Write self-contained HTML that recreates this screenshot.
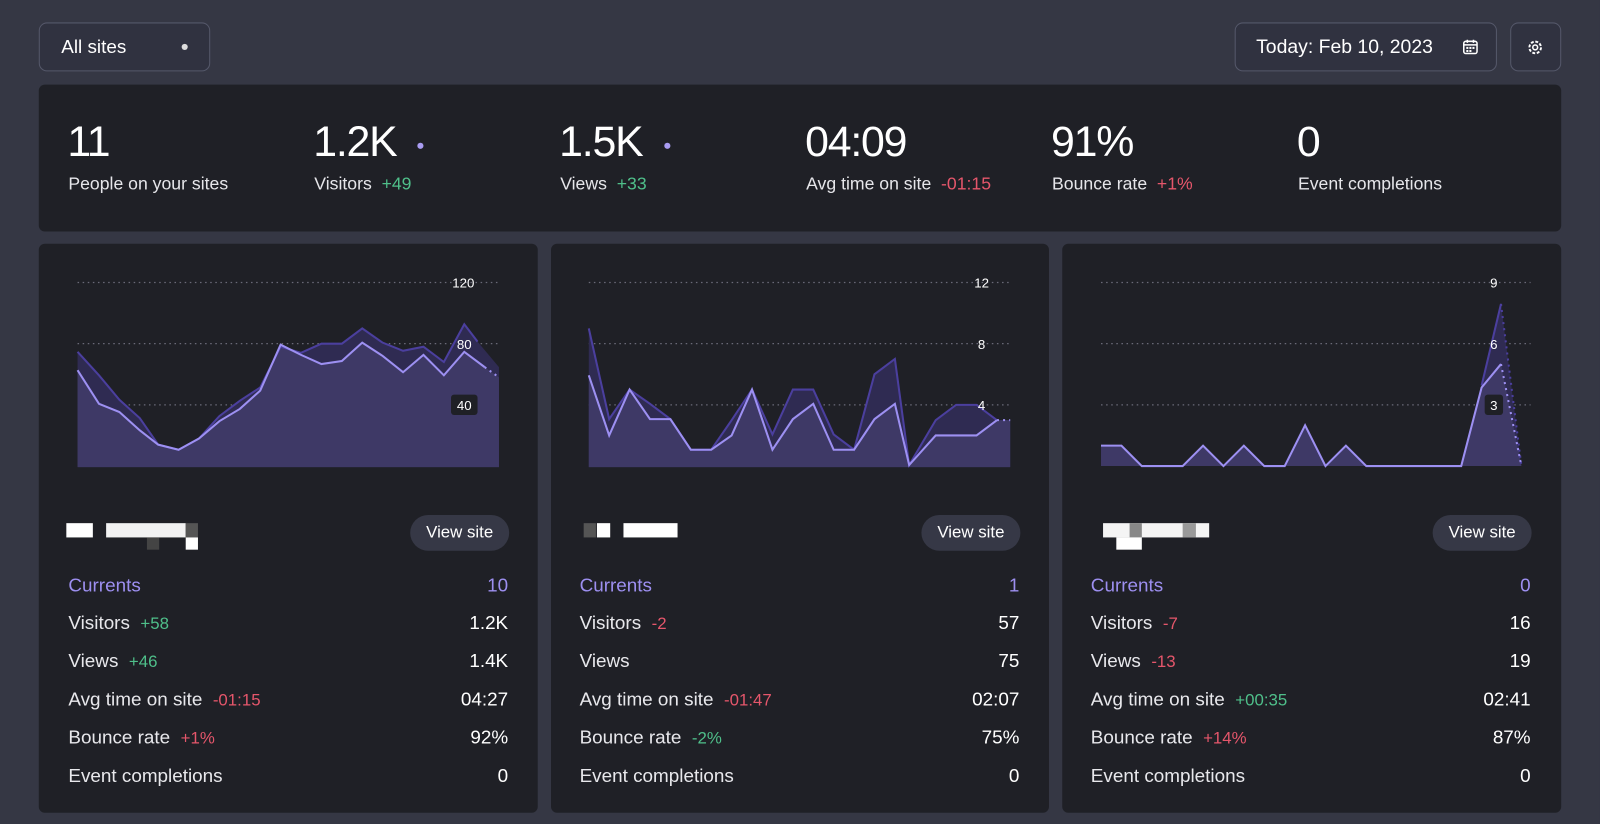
<!DOCTYPE html>
<html><head><meta charset="utf-8"><style>
*{margin:0;padding:0;box-sizing:border-box}
html,body{width:1600px;height:824px;overflow:hidden;background:#353744}
body{font-family:"Liberation Sans",sans-serif;color:#fff}
#w{position:absolute;left:0;top:0;width:1568px;height:808px;transform:scale(1.0204,1.0198);transform-origin:0 0;background:#353744}
.a{position:absolute}
.btn{position:absolute;border:1.5px solid #55586a;border-radius:8px;background:#303240}
.card{position:absolute;background:#1f2026;border-radius:6px}
.big{position:absolute;font-size:42px;letter-spacing:-1.2px;top:115px}
.lab{position:absolute;font-size:17.3px;top:170px;color:#e6e6ea}
.g{color:#4fbf8a}.r{color:#e5566b}
.row{position:absolute;font-size:18.5px;color:#e8e8ec}
.row span{font-size:16.5px}
.v{position:absolute;font-size:18.5px;text-align:right;width:100px}
.vs{position:absolute;width:97px;height:35px;border-radius:18px;background:#363846;font-size:16.5px;text-align:center;line-height:35px;top:505px}
.dot{position:absolute;width:6px;height:6px;border-radius:3px}
</style></head><body><div id="w">
<div class="btn" style="left:38px;top:22px;width:168px;height:48px"></div>
<div class="a" style="left:60px;top:35px;font-size:18.5px">All sites</div>
<div class="dot" style="left:178px;top:43px;background:#ddd"></div>
<div class="btn" style="left:1210px;top:22px;width:257px;height:48px"></div>
<div class="a" style="left:1231px;top:36px;font-size:19px">Today: Feb 10, 2023</div>
<svg class="a" style="left:1433px;top:38px" width="16" height="16" viewBox="0 0 16 16"><rect x="1.5" y="2.5" width="13" height="12" rx="2" fill="none" stroke="#fff" stroke-width="1.5"/><line x1="1.5" y1="6" x2="14.5" y2="6" stroke="#fff" stroke-width="1.5"/><line x1="5" y1="1" x2="5" y2="4" stroke="#fff" stroke-width="1.5"/><line x1="11" y1="1" x2="11" y2="4" stroke="#fff" stroke-width="1.5"/><rect x="4" y="8" width="2" height="2" fill="#fff"/><rect x="7" y="8" width="2" height="2" fill="#fff"/><rect x="10" y="8" width="2" height="2" fill="#fff"/><rect x="4" y="11" width="2" height="2" fill="#fff"/><rect x="7" y="11" width="2" height="2" fill="#fff"/></svg>
<div class="btn" style="left:1480px;top:22px;width:50px;height:48px"></div>
<svg class="a" style="left:1495px;top:37px" width="19" height="19" viewBox="0 0 20 20"><circle cx="10" cy="10" r="6" fill="none" stroke="#fff" stroke-width="2" stroke-dasharray="3 1.7"/><circle cx="10" cy="10" r="2.5" fill="none" stroke="#fff" stroke-width="1.6"/></svg>

<div class="card" style="left:38px;top:83px;width:1492px;height:144px"></div>
<div class="big" style="left:66px">11</div><div class="lab" style="left:67px">People on your sites</div>
<div class="big" style="left:307px">1.2K</div><div class="dot" style="left:409px;top:140px;background:#a99cf2"></div><div class="lab" style="left:308px">Visitors&nbsp; <span class="g">+49</span></div>
<div class="big" style="left:548px">1.5K</div><div class="dot" style="left:651px;top:140px;background:#a99cf2"></div><div class="lab" style="left:549px">Views&nbsp; <span class="g">+33</span></div>
<div class="big" style="left:789px">04:09</div><div class="lab" style="left:790px">Avg time on site&nbsp; <span class="r">-01:15</span></div>
<div class="big" style="left:1030px">91%</div><div class="lab" style="left:1031px">Bounce rate&nbsp; <span class="r">+1%</span></div>
<div class="big" style="left:1271px">0</div><div class="lab" style="left:1272px">Event completions</div>

<div class="card" style="left:38px;top:239px;width:489px;height:558px"></div>
<div class="card" style="left:540px;top:239px;width:488px;height:558px"></div>
<div class="card" style="left:1041px;top:239px;width:489px;height:558px"></div>

<svg class="a" style="left:0;top:0" width="1568" height="808">
<g stroke="#6a6a78" stroke-width="1.2" stroke-dasharray="1.5 3.5">
<line x1="76" y1="277" x2="489" y2="277"/><line x1="76" y1="337" x2="489" y2="337"/><line x1="76" y1="397" x2="489" y2="397"/>
<line x1="577" y1="277" x2="990" y2="277"/><line x1="577" y1="337" x2="990" y2="337"/><line x1="577" y1="397" x2="990" y2="397"/>
<line x1="1079" y1="277" x2="1500" y2="277"/><line x1="1079" y1="337" x2="1500" y2="337"/><line x1="1079" y1="397" x2="1500" y2="397"/>
</g>
<polygon fill="#2f2b52" points="76,345 97,368 117,392 137,410 155,436 175,441 195,430 215,408 235,393 255,380 275,340 295,346 315,337 335,337 355,322 375,336 395,344 415,340 435,355 455,318 468,335 489,360 489,458 76,458"/>
<polygon fill="#3e3966" points="76,363 97,396 117,404 137,422 155,436 175,441 195,430 215,413 235,401 255,383 275,338 295,348 315,357 335,354 355,336 375,349 395,365 415,348 435,368 455,345 475,360 489,370 489,458 76,458"/>
<polyline fill="none" stroke="#4b3f9e" stroke-width="2" points="76,345 97,368 117,392 137,410 155,436 175,441 195,430 215,408 235,393 255,380 275,340 295,346 315,337 335,337 355,322 375,336 395,344 415,340 435,355 455,318 468,335"/>
<polyline fill="none" stroke="#9d90f2" stroke-width="2" points="76,363 97,396 117,404 137,422 155,436 175,441 195,430 215,413 235,401 255,383 275,338 295,348 315,357 335,354 355,336 375,349 395,365 415,348 435,368 455,345 475,360"/>
<polyline fill="none" stroke="#9d90f2" stroke-width="2" stroke-dasharray="2 4" points="475,360 489,370"/>
<polygon fill="#2f2b52" points="577,322 597,411 617,382 637,396 657,411 677,441 697,441 717,412 737,382 757,426 777,382 797,382 817,426 837,441 857,367 877,352 891,456 917,412 937,397 957,397 977,412 990,412 990,458 577,458"/>
<polygon fill="#3e3966" points="577,368 597,427 617,382 637,411 657,411 677,441 697,441 717,427 737,382 757,441 777,411 797,396 817,441 837,441 857,411 877,396 891,456 917,427 937,427 957,427 977,412 990,412 990,458 577,458"/>
<polyline fill="none" stroke="#4b3f9e" stroke-width="2" points="577,322 597,411 617,382 637,396 657,411 677,441 697,441 717,412 737,382 757,426 777,382 797,382 817,426 837,441 857,367 877,352 891,456 917,412 937,397 957,397 977,412"/>
<polyline fill="none" stroke="#9d90f2" stroke-width="2" points="577,368 597,427 617,382 637,411 657,411 677,441 697,441 717,427 737,382 757,441 777,411 797,396 817,441 837,441 857,411 877,396 891,456 917,427 937,427 957,427 977,412"/>
<polyline fill="none" stroke="#9d90f2" stroke-width="2" stroke-dasharray="2 4" points="977,412 990,412"/>
<polygon fill="#2f2b52" points="1452,378 1471,298 1491,457"/>
<polygon fill="#3e3966" points="1079,437 1099,437 1119,457 1159,457 1179,437 1199,457 1219,437 1239,457 1259,457 1279,417 1299,457 1319,437 1339,457 1432,457 1452,380 1471,357 1491,457 1079,457"/>
<polyline fill="none" stroke="#4b3f9e" stroke-width="2" points="1452,378 1471,298"/>
<polyline fill="none" stroke="#4b3f9e" stroke-width="2" stroke-dasharray="2 4" points="1471,298 1491,457"/>
<polyline fill="none" stroke="#9d90f2" stroke-width="2" points="1079,437 1099,437 1119,457 1159,457 1179,437 1199,457 1219,437 1239,457 1259,457 1279,417 1299,457 1319,437 1339,457 1432,457 1452,380 1471,357"/>
<polyline fill="none" stroke="#9d90f2" stroke-width="2" stroke-dasharray="2 4" points="1471,357 1491,457"/>
<g font-size="13" fill="#fff" text-anchor="middle" font-family="Liberation Sans,sans-serif">
<rect x="442" y="387" width="26" height="20" rx="3" fill="#1f2026"/>
<text x="454" y="282">120</text><text x="455" y="342">80</text><text x="455" y="402">40</text>
<text x="962" y="282">12</text><text x="962" y="342">8</text><text x="962" y="402">4</text>
<rect x="1455" y="387" width="18" height="20" rx="3" fill="#1f2026"/>
<text x="1464" y="282">9</text><text x="1464" y="342">6</text><text x="1464" y="402">3</text>
</g>
<rect x="65" y="513" width="26" height="14" fill="#fff"/><rect x="104" y="513" width="78" height="14" fill="#f2f2f2"/><rect x="182" y="513" width="12" height="14" fill="#555"/><rect x="144" y="527" width="12" height="12" fill="#444"/><rect x="182" y="527" width="12" height="12" fill="#fff"/>
<rect x="572" y="513" width="12" height="14" fill="#555"/><rect x="585" y="513" width="13" height="14" fill="#fff"/><rect x="611" y="513" width="53" height="14" fill="#fff"/>
<rect x="1081" y="513" width="104" height="14" fill="#f4f4f4"/><rect x="1107" y="513" width="12" height="14" fill="#888"/><rect x="1159" y="513" width="13" height="14" fill="#999"/><rect x="1094" y="527" width="25" height="12" fill="#fff"/>
</svg>

<div class="vs" style="left:402px">View site</div>
<div class="vs" style="left:903px">View site</div>
<div class="vs" style="left:1404px">View site</div>

<div class="row" style="left:67px;top:563px;color:#9d8ff0">Currents</div><div class="v" style="left:398px;top:563px;color:#9d8ff0">10</div>
<div class="row" style="left:67px;top:600px">Visitors&nbsp; <span class="g">+58</span></div><div class="v" style="left:398px;top:600px">1.2K</div>
<div class="row" style="left:67px;top:637px">Views&nbsp; <span class="g">+46</span></div><div class="v" style="left:398px;top:637px">1.4K</div>
<div class="row" style="left:67px;top:675px">Avg time on site&nbsp; <span class="r">-01:15</span></div><div class="v" style="left:398px;top:675px">04:27</div>
<div class="row" style="left:67px;top:712px">Bounce rate&nbsp; <span class="r">+1%</span></div><div class="v" style="left:398px;top:712px">92%</div>
<div class="row" style="left:67px;top:750px">Event completions</div><div class="v" style="left:398px;top:750px">0</div>

<div class="row" style="left:568px;top:563px;color:#9d8ff0">Currents</div><div class="v" style="left:899px;top:563px;color:#9d8ff0">1</div>
<div class="row" style="left:568px;top:600px">Visitors&nbsp; <span class="r">-2</span></div><div class="v" style="left:899px;top:600px">57</div>
<div class="row" style="left:568px;top:637px">Views</div><div class="v" style="left:899px;top:637px">75</div>
<div class="row" style="left:568px;top:675px">Avg time on site&nbsp; <span class="r">-01:47</span></div><div class="v" style="left:899px;top:675px">02:07</div>
<div class="row" style="left:568px;top:712px">Bounce rate&nbsp; <span class="g">-2%</span></div><div class="v" style="left:899px;top:712px">75%</div>
<div class="row" style="left:568px;top:750px">Event completions</div><div class="v" style="left:899px;top:750px">0</div>

<div class="row" style="left:1069px;top:563px;color:#9d8ff0">Currents</div><div class="v" style="left:1400px;top:563px;color:#9d8ff0">0</div>
<div class="row" style="left:1069px;top:600px">Visitors&nbsp; <span class="r">-7</span></div><div class="v" style="left:1400px;top:600px">16</div>
<div class="row" style="left:1069px;top:637px">Views&nbsp; <span class="r">-13</span></div><div class="v" style="left:1400px;top:637px">19</div>
<div class="row" style="left:1069px;top:675px">Avg time on site&nbsp; <span class="g">+00:35</span></div><div class="v" style="left:1400px;top:675px">02:41</div>
<div class="row" style="left:1069px;top:712px">Bounce rate&nbsp; <span class="r">+14%</span></div><div class="v" style="left:1400px;top:712px">87%</div>
<div class="row" style="left:1069px;top:750px">Event completions</div><div class="v" style="left:1400px;top:750px">0</div>
</div></body></html>
